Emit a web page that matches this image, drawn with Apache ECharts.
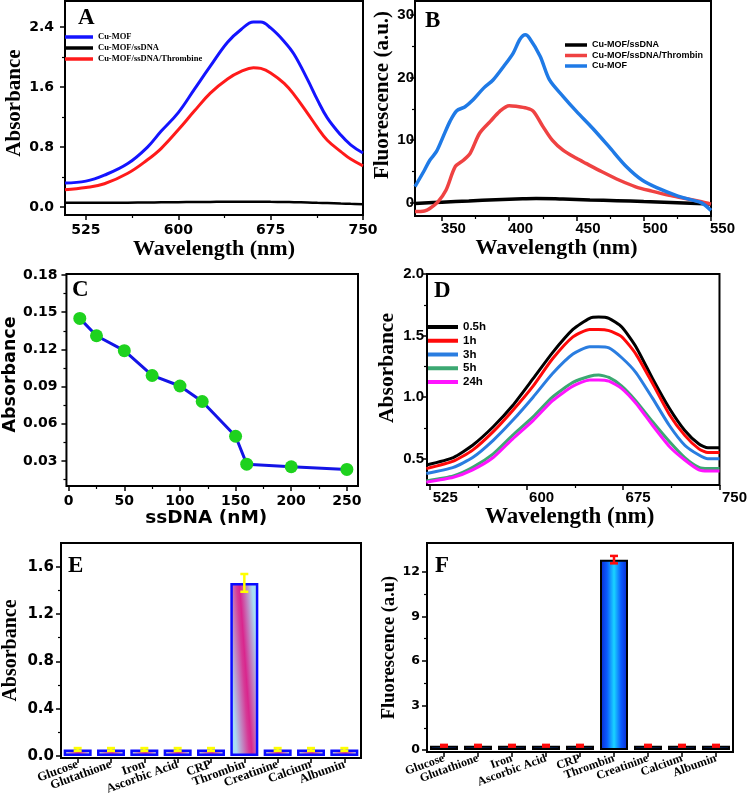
<!DOCTYPE html>
<html><head><meta charset="utf-8">
<script src="https://cdn.jsdelivr.net/npm/echarts@6/dist/echarts.min.js"></script>
<style>html,body{margin:0;padding:0;background:#fff}#c{width:750px;height:800px}</style>
</head><body><div id="c"></div>
<script>
// ---------- Panel A ----------
const aWave = [508,525,540,559,575,586,600,613,626,640,651,661,667,675,686,694,705,713,721,732,740,750];
const aCuMOF = [0.32,0.345,0.425,0.58,0.80,1.01,1.26,1.57,1.88,2.20,2.37,2.47,2.47,2.39,2.21,2.04,1.70,1.43,1.19,0.96,0.83,0.72];
const aSsDNA = [0.055,0.055,0.056,0.058,0.06,0.062,0.064,0.066,0.068,0.07,0.07,0.07,0.07,0.069,0.067,0.064,0.06,0.056,0.052,0.046,0.042,0.038];
const aThrombine = [0.23,0.26,0.31,0.45,0.63,0.78,1.03,1.28,1.52,1.71,1.81,1.86,1.85,1.79,1.65,1.50,1.25,1.06,0.89,0.74,0.64,0.55];
const aTicksX = [525,600,675,750], aMinorX = [562.5,637.5,712.5];
const aTicksY = [0,0.8,1.6,2.4], aMinorY = [0.4,1.2,2.0];

// ---------- Panel B ----------
const bSsDNAX = [330,350,370,390,410,420,440,460,480,500,520,550];
const bSsDNAY = [-0.1,0.1,0.3,0.5,0.65,0.7,0.6,0.45,0.35,0.2,0.05,-0.2];
const bThrX = [330,337,341,347,353,360,366,371,378,386,393,400,405,413,418,425,432,440,450,457,469,482,494,506,519,531,543,550];
const bThrY = [-1.4,-1.3,-0.9,0.16,2.0,5.8,6.8,7.9,11.1,13.0,14.6,15.5,15.4,15.1,14.6,12.2,10.0,8.4,7.1,6.3,4.96,3.6,2.56,1.87,1.2,0.7,0.16,-0.2];
const bMofX = [330,337,341,346,351,356,361,367,373,381,388,396,403,408,412,415,423,430,440,450,462,474,487,499,511,524,536,543,550];
const bMofY = [2.6,5.2,6.8,8.2,10.6,13.0,14.7,15.3,16.4,18.3,19.6,21.8,23.9,26.1,26.8,26.3,23.4,19.6,17.0,14.6,11.9,9.0,5.8,3.6,2.3,1.2,0.43,0,-1.2];
const bTicksX = [350,400,450,500,550], bMinorX = [375,425,475,525];
const bTicksY = [0,10,20,30], bMinorY = [5,15,25];

// ---------- Panel C ----------
const cDNA = [10,25,50,75,100,120,150,160,200,250];
const cAbs = [0.145,0.131,0.119,0.099,0.0905,0.078,0.050,0.0275,0.0254,0.0233];
const cTicksX = [0,50,100,150,200,250], cMinorX = [25,75,125,175,225];
const cTicksY = [0.03,0.06,0.09,0.12,0.15,0.18], cMinorY = [0.015,0.045,0.075,0.105,0.135,0.165];

// ---------- Panel D ----------
const dWave = [522,543,558,574,589,605,620,636,649,656,664,674,685,698,711,723,734,741,750];
const d05h = [0.45,0.51,0.61,0.76,0.93,1.15,1.36,1.55,1.64,1.65,1.64,1.57,1.41,1.15,0.91,0.73,0.62,0.59,0.59];
const d1h  = [0.42,0.48,0.57,0.72,0.89,1.09,1.31,1.49,1.55,1.55,1.54,1.49,1.35,1.11,0.86,0.69,0.58,0.55,0.55];
const d3h  = [0.38,0.43,0.51,0.65,0.81,1.00,1.19,1.35,1.41,1.41,1.40,1.32,1.20,0.99,0.77,0.61,0.53,0.50,0.50];
const d5h  = [0.32,0.36,0.43,0.54,0.69,0.84,1.00,1.12,1.17,1.18,1.16,1.09,0.97,0.80,0.64,0.51,0.43,0.42,0.42];
const d24h = [0.31,0.35,0.41,0.51,0.66,0.81,0.97,1.09,1.14,1.14,1.13,1.07,0.95,0.77,0.60,0.49,0.41,0.40,0.40];
const dTicksX = [525,600,675,750], dMinorX = [562.5,637.5,712.5];
const dTicksY = [0.5,1.0,1.5,2.0], dMinorY = [0.75,1.25,1.75];

// ---------- Panels E / F ----------
const analytes = ['Glucose','Glutathione','Iron','Ascorbic Acid','CRP','Thrombin','Creatinine','Calcium','Albumin'];
const eAbs = [0.055,0.055,0.055,0.055,0.055,1.463,0.055,0.055,0.055];
const eErr = [0.012,0.012,0.012,0.012,0.012,0.075,0.012,0.012,0.012];
const eTicksY = [0,0.4,0.8,1.2,1.6], eMinorY = [0.2,0.6,1.0,1.4];
const fFluo = [0.29,0.29,0.29,0.29,0.29,12.83,0.29,0.29,0.29];
const fErr = [0.06,0.06,0.06,0.06,0.06,0.25,0.06,0.06,0.06];
const fTicksY = [0,3,6,9,12], fMinorY = [1.5,4.5,7.5,10.5];

// ---------- helpers ----------
const SERIF = '"Liberation Serif","Times New Roman",serif';
const DSANS = '"DejaVu Sans",sans-serif';
const LSANS = '"Liberation Sans",Arial,sans-serif';
const xAxes = [], yAxes = [];
function valAxis(list, g, pos, min, max, majors, minors, fmt, lab, name, nameGap, nameStyle) {
  list.push({
    type:'value', gridIndex:g, position:pos, min:min, max:max,
    axisLine:{show:false, onZero:false},
    axisTick:{show:true, inside:false, length:5, lineStyle:{color:'#000', width:1.5}, customValues:majors},
    axisLabel:Object.assign({show:true, customValues:majors, formatter:fmt, color:'#000', fontWeight:'bold'}, lab),
    splitLine:{show:false},
    name:name, nameLocation:'middle', nameGap:nameGap,
    nameTextStyle:Object.assign({color:'#000', fontWeight:'bold'}, nameStyle)
  });
  const idx = list.length - 1;
  list.push({
    type:'value', gridIndex:g, position:pos, min:min, max:max,
    axisLine:{show:false, onZero:false},
    axisTick:{show:true, inside:false, length:3, lineStyle:{color:'#000', width:1.2}, customValues:minors},
    axisLabel:{show:false}, splitLine:{show:false}
  });
  return idx;
}
function catAxis(g, lab) {
  xAxes.push({
    type:'category', gridIndex:g, position:'bottom', data:analytes,
    axisLine:{show:false, onZero:false},
    axisTick:{show:true, alignWithLabel:true, inside:false, length:5, lineStyle:{color:'#000', width:1.5}},
    axisLabel:Object.assign({interval:0, rotate:20, color:'#000', fontWeight:'bold', fontFamily:SERIF}, lab),
    splitLine:{show:false}
  });
  return xAxes.length - 1;
}
const f1 = v => v.toFixed(1), f2 = v => v.toFixed(2), f0 = v => String(Math.round(v));
const pairs = (xs, ys) => xs.map((x, i) => [x, ys[i]]);
function lineS(name, xi, yi, data, color, w, smooth) {
  return {type:'line', name:name, xAxisIndex:xi, yAxisIndex:yi, data:data, color:color,
    showSymbol:false, smooth:smooth, lineStyle:{color:color, width:w}, itemStyle:{color:color}, z:3};
}
function errS(xi, yi, vals, errs, color) {
  return {type:'custom', xAxisIndex:xi, yAxisIndex:yi, z:6, silent:true,
    data: vals.map((v, i) => [i, v, errs[i]]), encode:{x:0, y:1},
    renderItem: function (p, api) {
      const i = api.value(0), v = api.value(1), e = api.value(2);
      const t = api.coord([i, v + e]), b = api.coord([i, v - e]);
      const st = {stroke:color, lineWidth:2.5};
      return {type:'group', children:[
        {type:'line', shape:{x1:t[0], y1:t[1], x2:b[0], y2:b[1]}, style:st},
        {type:'line', shape:{x1:t[0]-4, y1:t[1], x2:t[0]+4, y2:t[1]}, style:st},
        {type:'line', shape:{x1:b[0]-4, y1:b[1], x2:b[0]+4, y2:b[1]}, style:st}
      ]};
    }};
}

const grids = [
  {left:65, top:1, width:298, height:214},
  {left:415, top:1, width:296, height:215},
  {left:63, top:274, width:295, height:212},
  {left:427, top:274, width:296, height:211},
  {left:60, top:543, width:301, height:215},
  {left:427, top:543, width:306, height:209}
].map(g => Object.assign({show:true, borderColor:'#000', borderWidth:2, backgroundColor:'transparent', containLabel:false}, g));

// A
const axA = valAxis(xAxes, 0, 'bottom', 508, 750, aTicksX, aMinorX, f0, {fontFamily:DSANS, fontSize:14, margin:8},
  'Wavelength (nm)', 18, {fontFamily:SERIF, fontSize:22});
const ayA = valAxis(yAxes, 0, 'left', -0.107, 2.75, aTicksY, aMinorY, f1, {fontFamily:DSANS, fontSize:14, margin:11},
  'Absorbance', 37, {fontFamily:SERIF, fontSize:21, padding:[0,0,0,10]});
// B
const axB = valAxis(xAxes, 1, 'bottom', 330, 550, bTicksX, bMinorX, f0, {fontFamily:LSANS, fontSize:15, margin:5, padding:[0,0,0,23]},
  'Wavelength (nm)', 18, {fontFamily:SERIF, fontSize:22, padding:[0,13,0,0]});
const ayB = valAxis(yAxes, 1, 'left', -2.1, 32.2, bTicksY, bMinorY, f0, {fontFamily:LSANS, fontSize:15, margin:1, padding:[14,0,0,0]},
  'Fluorescence (a.u.)', 20, {fontFamily:SERIF, fontSize:21, padding:[0,0,0,27]});
// C
const axC = valAxis(xAxes, 2, 'bottom', -2, 260, cTicksX, cMinorX, f0, {fontFamily:DSANS, fontSize:14, margin:8},
  'ssDNA (nM)', 22, {fontFamily:DSANS, fontSize:18.5, padding:[0,12,0,0]});
const ayC = valAxis(yAxes, 2, 'left', 0.0099, 0.1808, cTicksY, cMinorY, f2, {fontFamily:DSANS, fontSize:14, margin:9},
  'Absorbance', 41, {fontFamily:DSANS, fontSize:17.5, padding:[0,0,0,11]});
// D
const axD = valAxis(xAxes, 3, 'bottom', 522.5, 750, dTicksX, dMinorX, f0, {fontFamily:LSANS, fontSize:15, margin:5, padding:[0,0,0,30]},
  'Wavelength (nm)', 19, {fontFamily:SERIF, fontSize:23, padding:[0,7,0,0]});
const ayD = valAxis(yAxes, 3, 'left', 0.287, 2.0, dTicksY, dMinorY, f1, {fontFamily:LSANS, fontSize:15, margin:3, padding:[16,0,0,0]},
  'Absorbance', 29, {fontFamily:SERIF, fontSize:21.5, padding:[0,0,0,23]});
// E
const axE = catAxis(4, {fontSize:12.5, margin:6});
const ayE = valAxis(yAxes, 4, 'left', -0.017, 1.80, eTicksY, eMinorY, f1, {fontFamily:DSANS, fontSize:15, margin:7},
  'Absorbance', 40, {fontFamily:SERIF, fontSize:20});
// F
const axF = catAxis(5, {fontSize:12, margin:6});
const ayF = valAxis(yAxes, 5, 'left', -0.13, 13.95, fTicksY, fMinorY, f0, {fontFamily:DSANS, fontSize:12.5, margin:7},
  'Fluorescence (a.u)', 25, {fontFamily:SERIF, fontSize:18.5});

const eGrad = {type:'linear', x:0, y:0.506, x2:1, y2:0.494, colorStops:[
  {offset:0, color:'#a9ddf2'}, {offset:0.45, color:'#d63a96'}, {offset:0.55, color:'#d9268d'}, {offset:1, color:'#a9ddf2'}]};
const fGrad = {type:'linear', x:0, y:0, x2:1, y2:0, colorStops:[
  {offset:0, color:'#0a26cc'}, {offset:0.25, color:'#0b5cff'}, {offset:0.5, color:'#1ad4ff'},
  {offset:0.75, color:'#0b5cff'}, {offset:1, color:'#0a26cc'}]};

const series = [
  lineS('Cu-MOF', axA, ayA, pairs(aWave, aCuMOF), '#1414ff', 3, 0.4),
  lineS('Cu-MOF/ssDNA', axA, ayA, pairs(aWave, aSsDNA), '#000000', 2.5, 0.4),
  lineS('Cu-MOF/ssDNA/Thrombine', axA, ayA, pairs(aWave, aThrombine), '#ff1a1a', 3, 0.4),

  lineS('B|Cu-MOF/ssDNA', axB, ayB, pairs(bSsDNAX, bSsDNAY), '#000000', 3.5, 0.4),
  lineS('B|Cu-MOF/ssDNA/Thrombin', axB, ayB, pairs(bThrX, bThrY), '#ef4242', 3.5, 0.3),
  lineS('B|Cu-MOF', axB, ayB, pairs(bMofX, bMofY), '#1f7ae6', 3.5, 0.3),

  {type:'line', name:'C', xAxisIndex:axC, yAxisIndex:ayC, data:pairs(cDNA, cAbs),
    symbol:'circle', symbolSize:13, showSymbol:true,
    lineStyle:{color:'#1414e6', width:3}, itemStyle:{color:'#1ed21e', borderWidth:0}},

  lineS('0.5h', axD, ayD, pairs(dWave, d05h), '#000000', 3, 0.2),
  lineS('1h', axD, ayD, pairs(dWave, d1h), '#ff0a0a', 3, 0.2),
  lineS('3h', axD, ayD, pairs(dWave, d3h), '#2a7de0', 3, 0.2),
  lineS('5h', axD, ayD, pairs(dWave, d5h), '#3ca872', 3, 0.2),
  lineS('24h', axD, ayD, pairs(dWave, d24h), '#ff14ff', 3, 0.2),

  {type:'bar', name:'E', xAxisIndex:axE, yAxisIndex:ayE, data:eAbs, barWidth:28,
    itemStyle:{color:eGrad, borderColor:'#0a0aff', borderWidth:2.5}},
  errS(axE, ayE, eAbs, eErr, '#ffff00'),
  {type:'bar', name:'F', xAxisIndex:axF, yAxisIndex:ayF, data:fFluo, barWidth:28,
    itemStyle:{color:fGrad, borderColor:'#000', borderWidth:2}},
  errS(axF, ayF, fFluo, fErr, '#ff0a0a')
];

const legends = [
  {data:['Cu-MOF','Cu-MOF/ssDNA','Cu-MOF/ssDNA/Thrombine'], left:65, top:32, itemWidth:28, itemHeight:3.5,
    textStyle:{fontFamily:SERIF, fontWeight:'bold', fontSize:8.5, lineHeight:10, color:'#000'}, itemGap:1},
  {data:['B|Cu-MOF/ssDNA','B|Cu-MOF/ssDNA/Thrombin','B|Cu-MOF'], left:565, top:40, itemWidth:22, itemHeight:3.5,
    formatter: n => n.replace(/^B\|/, ''),
    textStyle:{fontFamily:LSANS, fontWeight:'bold', fontSize:9, lineHeight:10, color:'#000'}, itemGap:0.5},
  {data:['0.5h','1h','3h','5h','24h'], left:428, top:320.5, itemWidth:30, itemHeight:4,
    textStyle:{fontFamily:LSANS, fontWeight:'bold', fontSize:11.5, lineHeight:13, color:'#000'}, itemGap:0.75}
].map(l => Object.assign({orient:'vertical', icon:'rect', selectedMode:false, padding:0}, l));

const letterFont = 'bold 23px ' + SERIF;
const letters = [['A',78,7],['B',425,10],['C',72,279],['D',434,280],['E',68,555],['F',435,555]].map(a => ({
  type:'text', left:a[1], top:a[2], z:100, style:{text:a[0], font:letterFont, fill:'#000'}
}));

const chart = echarts.init(document.getElementById('c'), null, {renderer:'canvas'});
chart.setOption({
  animation:false, backgroundColor:'#fff',
  grid:grids, xAxis:xAxes, yAxis:yAxes, legend:legends, series:series, graphic:letters
});
</script></body></html>
